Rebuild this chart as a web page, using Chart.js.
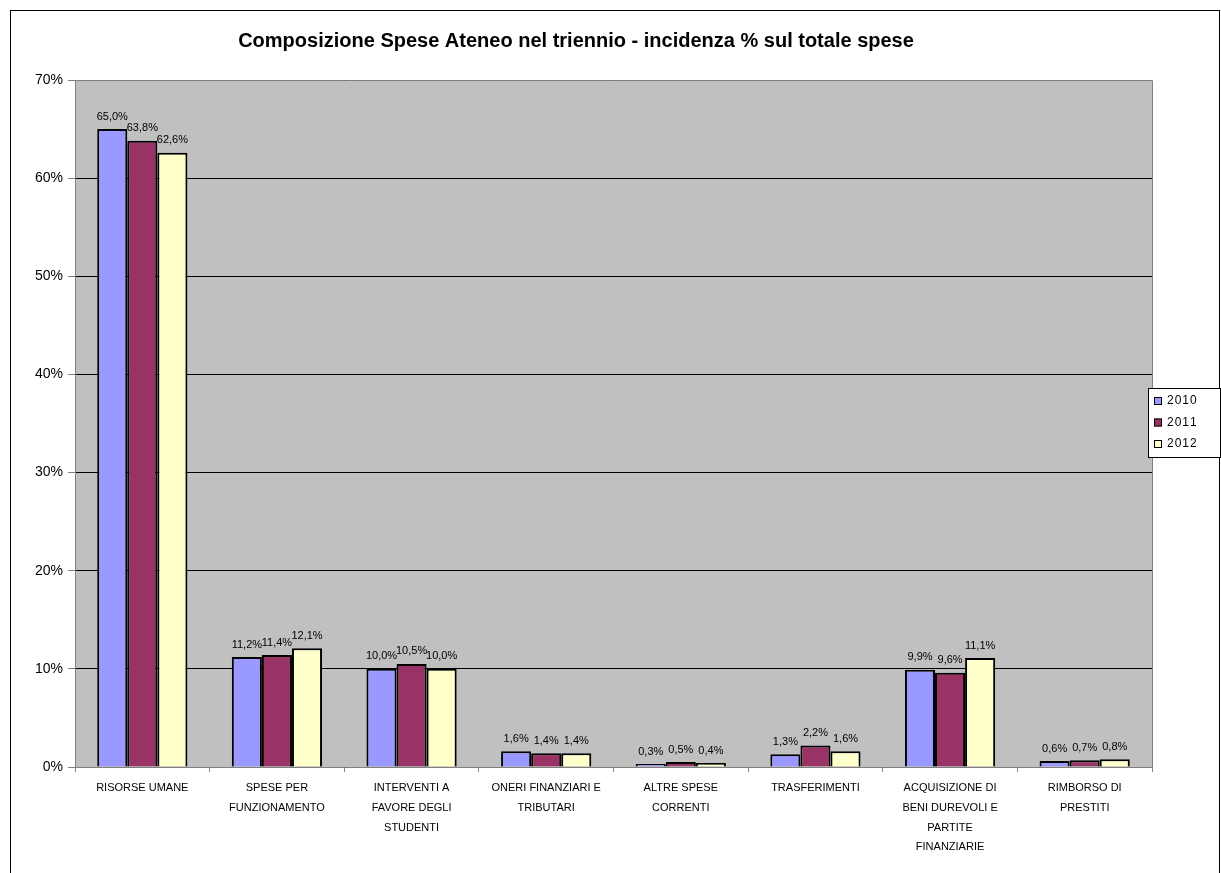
<!DOCTYPE html>
<html>
<head>
<meta charset="utf-8">
<script src="https://cdn.jsdelivr.net/npm/chart.js@4/dist/chart.umd.min.js"></script>
<style>
  html, body { margin: 0; padding: 0; background: #fff; }
  #wrap { width: 1221px; height: 873px; }
</style>
</head>
<body>
<div id="wrap"><canvas id="canvas" width="1221" height="873"></canvas></div>
<script>
// categories (multi-line as in the original)
const categories = [
    ['RISORSE UMANE'],
    ['SPESE PER', 'FUNZIONAMENTO'],
    ['INTERVENTI A', 'FAVORE DEGLI', 'STUDENTI'],
    ['ONERI FINANZIARI E', 'TRIBUTARI'],
    ['ALTRE SPESE', 'CORRENTI'],
    ['TRASFERIMENTI'],
    ['ACQUISIZIONE DI', 'BENI DUREVOLI E', 'PARTITE', 'FINANZIARIE'],
    ['RIMBORSO DI', 'PRESTITI']
];
const years = ['2010', '2011', '2012'];
const v2010 = [65.0, 11.2, 10.0, 1.6, 0.3, 1.3, 9.9, 0.6];
const v2011 = [63.8, 11.4, 10.5, 1.4, 0.5, 2.2, 9.6, 0.7];
const v2012 = [62.6, 12.1, 10.0, 1.4, 0.4, 1.6, 11.1, 0.8];
const yTicks = [0, 10, 20, 30, 40, 50, 60, 70];

const colors = ['#9999FF', '#993366', '#FFFFCC'];
const font = '"Liberation Sans", Arial, sans-serif';

function pct(v) {
    return v.toFixed(1).replace('.', ',') + '%';
}

// grey plot background + outer frame
const background = {
    id: 'background',
    beforeDraw(chart) {
        const c = chart.ctx, a = chart.chartArea;
        c.save();
        c.fillStyle = '#C0C0C0';
        c.fillRect(a.left, a.top, a.right - a.left, a.bottom - a.top);
        c.restore();
    },
    afterDraw(chart) {
        const c = chart.ctx, a = chart.chartArea;
        c.save();
        c.strokeStyle = '#808080';
        c.lineWidth = 1;
        c.beginPath();
        c.moveTo(a.left, a.top + 0.5);
        c.lineTo(a.right + 0.5, a.top + 0.5);
        c.lineTo(a.right + 0.5, a.bottom);
        c.stroke();
        c.strokeStyle = '#000';
        c.strokeRect(10.5, 10.5, 1209, 900);
        c.restore();
    }
};

// value labels above the bars
const valueLabels = {
    id: 'valueLabels',
    afterDatasetsDraw(chart) {
        const c = chart.ctx;
        c.save();
        c.font = '11px ' + font;
        c.fillStyle = '#000';
        c.textAlign = 'center';
        c.textBaseline = 'bottom';
        chart.data.datasets.forEach(function(ds, i) {
            chart.getDatasetMeta(i).data.forEach(function(bar, j) {
                c.fillText(pct(ds.data[j]), bar.x, bar.y - 7);
            });
        });
        c.restore();
    }
};

// legend box at the right, like the spreadsheet one
const sideLegend = {
    id: 'sideLegend',
    afterDraw(chart) {
        const c = chart.ctx;
        const x = 1148, y = 388, w = 72, h = 69;
        c.save();
        c.fillStyle = '#fff';
        c.fillRect(x, y, w, h);
        c.strokeStyle = '#000';
        c.lineWidth = 1;
        c.strokeRect(x + 0.5, y + 0.5, w, h);
        c.font = '12px ' + font;
        c.textBaseline = 'middle';
        chart.data.datasets.forEach(function(ds, i) {
            const cy = y + 13 + i * 21.5;
            c.fillStyle = ds.backgroundColor;
            c.fillRect(x + 6, cy - 4, 8, 8);
            c.strokeRect(x + 6.5, cy - 3.5, 7, 7);
            c.fillStyle = '#000';
            c.fillText(ds.label.split('').join(String.fromCharCode(8202)), x + 19, cy);
        });
        c.restore();
    }
};

const ctx = document.getElementById('canvas').getContext('2d');
const myChart = new Chart(ctx, {
    type: 'bar',
    data: {
        labels: categories,
        datasets: years.map(function(y, i) {
            return {
                label: y,
                data: [v2010, v2011, v2012][i],
                backgroundColor: colors[i],
                borderColor: '#000',
                borderWidth: 2,
                borderSkipped: 'bottom',
                barPercentage: 1,
                categoryPercentage: 0.67
            };
        })
    },
    plugins: [background, valueLabels, sideLegend],
    options: {
        responsive: false,
        animation: false,
        layout: {
            padding: { left: 0, right: 69, top: 0, bottom: 0 }
        },
        scales: {
            x: {
                afterFit: function(s) { s.height = 106; },
                grid: {
                    display: true,
                    drawOnChartArea: false,
                    drawTicks: true,
                    tickLength: 5,
                    color: '#808080'
                },
                border: { display: true, color: '#808080' },
                ticks: {
                    color: '#000',
                    padding: 6,
                    maxRotation: 0,
                    autoSkip: false,
                    font: { family: font, size: 11, lineHeight: 1.8 }
                }
            },
            y: {
                min: 0,
                max: 70,
                afterFit: function(s) { s.width = 75; },
                afterBuildTicks: function(s) {
                    s.ticks = yTicks.map(function(v) { return { value: v }; });
                },
                grid: {
                    color: '#000',
                    lineWidth: 1,
                    tickLength: 7,
                    tickColor: '#808080'
                },
                border: { display: true, color: '#808080' },
                ticks: {
                    color: '#000',
                    padding: 5,
                    font: { family: font, size: 14 },
                    callback: function(v) { return v + '%'; }
                }
            }
        },
        plugins: {
            legend: { display: false },
            tooltip: { enabled: false },
            title: {
                display: true,
                text: 'Composizione Spese Ateneo nel triennio - incidenza % sul totale spese',
                color: '#000',
                font: { family: font, size: 20, weight: 'bold' },
                padding: { top: 29, bottom: 27 }
            }
        }
    }
});
</script>
</body>
</html>
